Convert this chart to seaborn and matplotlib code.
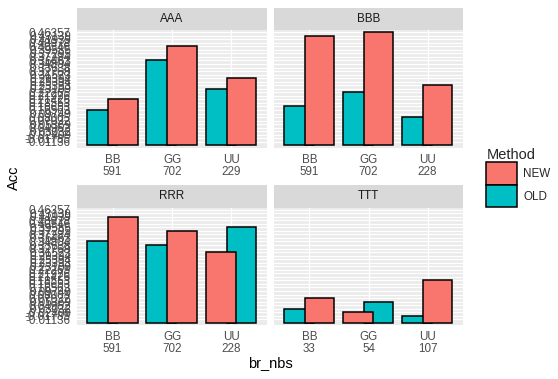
import numpy as np
import pandas as pd
import matplotlib
matplotlib.use("Agg")
import matplotlib.pyplot as plt
from matplotlib.patches import Patch
import seaborn as sns

# --------------------------------------------------------------
# data (Acc is a discrete / character variable in the original)
# --------------------------------------------------------------
panels = ["AAA", "BBB", "RRR", "TTT"]
branches = ["BB", "GG", "UU"]
nbs = [[591, 702, 229], [591, 702, 228], [591, 702, 228], [33, 54, 107]]

# y-axis levels, in (string) sort order
acc_levels = [
    "-0.01136", "-0.01785", "-0.02409", "0.03032", "0.04962", "0.05369",
    "0.07032", "0.08005", "0.09749", "0.16563", "0.16653", "0.18553",
    "0.21426", "0.21976", "0.22265", "0.23109", "0.23393", "0.25394",
    "0.29394", "0.31523", "0.32768", "0.33638", "0.34804", "0.36463",
    "0.37284", "0.37295", "0.39585", "0.40546", "0.40978", "0.41939",
    "0.43139", "0.46357",
]

acc_old = [
    ["0.16563", "0.36463", "0.23109"],   # AAA
    ["0.16653", "0.22265", "0.08005"],   # BBB
    ["0.34804", "0.33638", "0.39585"],   # RRR
    ["0.03032", "0.05369", "-0.01785"],  # TTT
]
acc_new = [
    ["0.21426", "0.40546", "0.29394"],
    ["0.43139", "0.46357", "0.23393"],
    ["0.41939", "0.37295", "0.31523"],
    ["0.07032", "-0.02409", "0.18553"],
]

colores = {"NEW": "#F8766D", "OLD": "#00BFC4"}

rows = []
for p, panel in enumerate(panels):
    for b, br in enumerate(branches):
        lab = f"{br}\n{nbs[p][b]}"
        rows.append((panel, b, lab, "OLD", acc_old[p][b]))
        rows.append((panel, b, lab, "NEW", acc_new[p][b]))
df = pd.DataFrame(rows, columns=["panel", "xi", "br_nbs", "Method", "Acc"])
df["Acc"] = pd.Categorical(df["Acc"], categories=acc_levels)
df["nivel"] = df["Acc"].cat.codes + 1

# --------------------------------------------------------------
# estilo tipo ggplot
# --------------------------------------------------------------
sns.set_theme(style="darkgrid", rc={
    "axes.facecolor": "#EBEBEB",
    "grid.color": "white",
    "grid.linewidth": 0.9,
    "axes.edgecolor": "#EBEBEB",
    "xtick.color": "#333333",
    "ytick.color": "#333333",
    "xtick.labelcolor": "#4D4D4D",
    "ytick.labelcolor": "#4D4D4D",
})
plt.rcParams["font.family"] = ["Liberation Sans", "DejaVu Sans"]

FS_TICK = 8.4
FS_TIT = 10.5

W, H = 558, 379
fig = plt.figure(figsize=(W / 100, H / 100), dpi=100)


def caja(x0, y0, x1, y1):
    return [x0 / W, 1 - y1 / H, (x1 - x0) / W, (y1 - y0) / H]


paneles_px = [(77, 30, 267, 147.5), (274, 30, 463, 147.5),
              (77, 207.5, 267, 325), (274, 207.5, 463, 325)]

for p, panel in enumerate(panels):
    x0, y0, x1, y1 = paneles_px[p]
    ax = fig.add_axes(caja(x0, y0, x1, y1))
    sub = df[df["panel"] == panel]
    ax.set_axisbelow(True)
    for xi, g in sub.groupby("xi"):
        g = g.sort_values("nivel")
        offs = dict(zip(g["Method"], [-0.18, 0.17]))
        for met in ["OLD", "NEW"]:
            fila = g[g["Method"] == met].iloc[0]
            ax.bar(xi + 1 + offs[met], fila["nivel"], width=0.5,
                   color=colores[met], edgecolor="black", linewidth=1.1,
                   zorder=3 if met == "OLD" else 4)
    ax.set_xlim(0.4, 3.6)
    ax.set_ylim(-0.6, len(acc_levels) + 0.6)
    ax.set_xticks([1, 2, 3])
    ax.set_xticklabels(sub.drop_duplicates("xi")["br_nbs"], fontsize=FS_TICK,
                       linespacing=1.0)
    ax.set_yticks(range(1, len(acc_levels) + 1))
    ax.tick_params(axis="both", length=2.4, width=0.8, pad=2)
    if p % 2 == 0:
        ax.set_yticklabels(acc_levels, fontsize=FS_TICK)
    else:
        ax.set_yticklabels([])
        ax.tick_params(axis="y", length=0)
    ax.grid(True, which="major", color="white", linewidth=0.9)
    for s in ax.spines.values():
        s.set_visible(False)

    # strip
    sax = fig.add_axes(caja(x0, y0 - 22.5, x1, y0))
    sax.set_facecolor("#D9D9D9")
    sax.set_xticks([])
    sax.set_yticks([])
    sax.grid(False)
    for s in sax.spines.values():
        s.set_visible(False)
    sax.text(0.5, 0.5, panel, ha="center", va="center", fontsize=FS_TICK,
             color="#1A1A1A", transform=sax.transAxes)

fig.text(14 / W, 1 - 178 / H, "Acc", rotation=90, ha="center", va="center",
         fontsize=FS_TIT, color="black")
fig.text(270 / W, 1 - 363 / H, "br_nbs", ha="center", va="center",
         fontsize=FS_TIT, color="black")

handles = [Patch(facecolor=colores[m], edgecolor="black", linewidth=1.1)
           for m in ["NEW", "OLD"]]
leg = fig.legend(handles, ["NEW", "OLD"], title="Method",
                 loc="upper left", bbox_to_anchor=(484 / W, 1 - 146 / H),
                 frameon=False, fontsize=FS_TICK, title_fontsize=FS_TIT,
                 handlelength=2.6, handleheight=2.6, labelspacing=0.0,
                 handletextpad=0.55, borderaxespad=0, borderpad=0.2)
leg._legend_box.align = "left"

fig.savefig("out.png", dpi=100)
